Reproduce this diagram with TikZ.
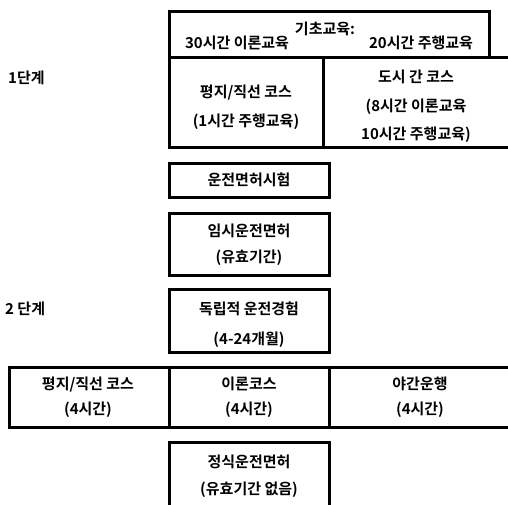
\documentclass[tikz,border=0pt]{standalone}
\usepackage{fontspec}
\newfontfamily\kr{Noto Sans CJK KR}[BoldFont={Noto Sans CJK KR Bold}]
\begin{document}
\begin{tikzpicture}[x=1pt,y=-1pt,
  cell/.style={draw, line width=3pt, inner sep=0pt},
  txt/.style={font=\kr\bfseries\fontsize{15}{27}\selectfont, align=center, inner sep=0pt},
  stage/.style={font=\kr\bfseries\fontsize{15}{16}\selectfont, anchor=west, inner sep=0pt}]
\useasboundingbox (0,0) rectangle (508,504);
% boxes
\node[cell, minimum width=320pt, minimum height=46pt] (basic) at (329,34) {};
\node[cell, minimum width=154pt, minimum height=90pt] (flat1) at (246,102) {};
\node[cell, minimum width=189pt, minimum height=90pt] (city) at (417.5,102) {};
\node[cell, minimum width=160pt, minimum height=34pt] (exam) at (249,180) {};
\node[cell, minimum width=160pt, minimum height=62pt] (temp) at (249,244) {};
\node[cell, minimum width=160pt, minimum height=63pt] (indep) at (249,320.5) {};
\node[cell, minimum width=160pt, minimum height=60pt] (flat2) at (89,397) {};
\node[cell, minimum width=160pt, minimum height=60pt] (theory) at (249,397) {};
\node[cell, minimum width=183pt, minimum height=60pt] (night) at (420.5,397) {};
\node[cell, minimum width=160pt, minimum height=68pt] (full) at (249,476) {};
% texts
\node[txt] (basicT) at (325,29) {기초교육:};
\node[txt] (th30) at (237,43) {30시간 이론교육};
\node[txt] (dr20) at (421,43) {20시간 주행교육};
\node[txt, font=\kr\bfseries\fontsize{15}{29}\selectfont] (flat1T) at (246,107.5) {평지/직선 코스\\(1시간 주행교육)};
\node[txt, font=\kr\bfseries\fontsize{15}{28.5}\selectfont] (cityT) at (416,106.5) {도시 간 코스\\(8시간 이론교육\\10시간 주행교육)};
\node[txt] (examT) at (249,180) {운전면허시험};
\node[txt, font=\kr\bfseries\fontsize{15}{26}\selectfont] (tempT) at (249,245) {임시운전면허\\(유효기간)};
\node[txt, font=\kr\bfseries\fontsize{15}{30}\selectfont] (indepT) at (249,325) {독립적 운전경험\\(4-24개월)};
\node[txt, font=\kr\bfseries\fontsize{15}{25}\selectfont] (flat2T) at (88,397.5) {평지/직선 코스\\(4시간)};
\node[txt, font=\kr\bfseries\fontsize{15}{25}\selectfont] (theoryT) at (249,397.5) {이론코스\\(4시간)};
\node[txt, font=\kr\bfseries\fontsize{15}{25}\selectfont] (nightT) at (420,397.5) {야간운행\\(4시간)};
\node[txt] (fullT) at (249,476.5) {정식운전면허\\(유효기간 없음)};
% stage labels
\node[stage] (s1) at (8,78) {1단계};
\node[stage] (s2) at (5,309) {2 단계};
\end{tikzpicture}
\end{document}
